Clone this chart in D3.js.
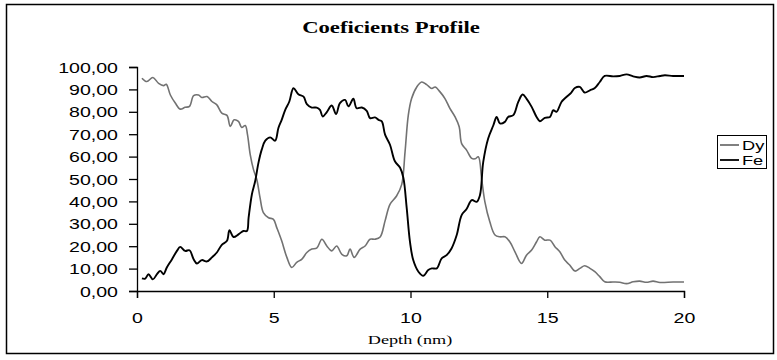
<!DOCTYPE html>
<html>
<head>
<meta charset="utf-8">
<script src="https://cdn.jsdelivr.net/npm/d3@7"></script>
<style>
  body { margin: 0; background: #fff; }
  svg { display: block; }
</style>
</head>
<body>
<svg width="777" height="360"></svg>
<script>
// values
let seriesNames = ["Dy", "Fe"]
let xTicks = [0, 5, 10, 15, 20]
let yTicks = [0, 10, 20, 30, 40, 50, 60, 70, 80, 90, 100]

let dyDepth = [0.18,0.36,0.58,0.79,0.97,1.07,1.22,1.40,1.58,1.76,1.92,2.07,2.25,2.37,2.56,2.74,2.92,3.10,3.29,3.41,3.55,3.71,3.83,3.96,4.04,4.14,4.26,4.38,4.50,4.62,4.81,4.99,5.11,5.29,5.48,5.66,5.84,6.03,6.21,6.39,6.57,6.76,6.94,7.12,7.30,7.49,7.67,7.79,7.94,8.16,8.34,8.52,8.70,8.89,9.07,9.25,9.49,9.68,9.80,9.92,10.04,10.23,10.41,10.59,10.78,10.90,11.08,11.26,11.44,11.63,11.78,11.87,12.05,12.24,12.36,12.48,12.60,12.72,12.90,13.09,13.27,13.45,13.63,13.82,14.06,14.24,14.43,14.61,14.73,14.91,15.10,15.28,15.46,15.64,15.82,16.01,16.19,16.37,16.56,16.74,16.92,17.10,17.41,17.65,17.90,18.14,18.38,18.63,18.87,19.12,19.60,20]
let dyValues = [95,93.5,95.3,92.7,91.7,92.3,87.5,83.9,81.2,82,82.4,87.2,87.5,86.4,86.8,84.6,83.1,79.4,78.4,73.5,76.4,75.7,73,73.9,69.8,60.9,54.2,49.8,41.6,35,32.7,32,28.3,22.4,15,10.5,12.8,14.2,17.2,18.7,19.1,23.1,20.1,17.9,20.1,16.4,15.7,18.7,15,18.7,20.1,23.1,23.1,24.1,31.3,38.7,42.4,47.6,62,78.5,85.9,91.1,93.3,92.1,90.4,91.1,88.9,85.9,81.5,77.7,73.3,65.8,62.9,59.2,59,59.9,50.2,39.8,30.9,25,24.2,24.2,22,17.5,12.3,16,18.3,22,24.2,22.7,22.7,19.8,17.5,13.8,11.6,8.9,10.1,11.3,10.1,8.6,6.4,4.1,4,3.9,3.3,4.1,4.4,3.9,4.4,3.8,4,4]

let feDepth = [0.18,0.30,0.42,0.58,0.73,0.85,0.97,1.09,1.28,1.46,1.58,1.76,1.92,2.07,2.19,2.37,2.56,2.74,2.92,3.10,3.29,3.38,3.53,3.71,3.89,4.02,4.08,4.20,4.32,4.44,4.56,4.69,4.87,5.05,5.17,5.29,5.42,5.57,5.72,5.90,6.09,6.21,6.39,6.57,6.69,6.79,6.94,7.12,7.28,7.42,7.61,7.73,7.91,8.03,8.22,8.40,8.52,8.70,8.83,8.95,9.07,9.25,9.43,9.62,9.74,9.86,9.98,10.10,10.29,10.47,10.65,10.78,10.96,11.14,11.32,11.50,11.69,11.87,12.05,12.24,12.42,12.54,12.66,12.84,13.03,13.15,13.27,13.45,13.57,13.76,13.94,14.10,14.24,14.43,14.61,14.73,14.91,15.10,15.22,15.34,15.52,15.70,15.88,16.01,16.19,16.37,16.56,16.74,16.92,17.10,17.41,17.65,17.90,18.14,18.38,18.63,18.87,19.12,19.30,19.60,20]
let feValues = [5.6,5.5,7.5,5.2,7.5,9,7.5,10.5,14.2,17.9,19.7,17.9,18.2,14.2,12.3,13.8,13.2,15,17.2,20.6,22.4,27.1,24.1,25.3,26.8,26.8,32.7,43.1,49,57.2,63.1,67.1,68.6,67.1,72.8,76.4,80.9,84.6,90.5,87.8,86.8,83.4,81.9,81.9,80.9,77.9,79.9,82.8,79,83.9,85.3,82.4,85.8,81.6,81.9,80.4,77.2,77.5,76.4,75.7,69.8,65.3,57.9,55,50.5,37.2,22,13.8,8.6,6.8,9.4,10.1,10.1,14.6,16,19,25,33.9,36.6,40.6,39.8,42.8,57.6,68.1,74,77.7,74.8,75.5,77.7,78.5,84.4,87.7,85.9,82.2,77.7,75.8,77.3,77.7,80.7,80,84.4,86.6,88.6,90.6,91.1,88.6,89.6,90.6,93.3,96,95.8,96,96.7,95.8,95.3,96,95.5,96,96.3,96,96]

let colors = ["#727272", "#000000"]
let stretch = 1.35   // the picture is squeezed wider than its fonts

let svg = d3.select("svg")

// outer frame
svg.append("rect")
    .attr("x", 6.5).attr("y", 4.5)
    .attr("width", 767).attr("height", 349)
    .style("fill", "none")
    .style("stroke", "black")
    .style("stroke-width", 1.5)

let x = d3.scaleLinear()
    .domain([0, 20])
    .range([137, 684])

let y = d3.scaleLinear()
    .domain([0, 100])
    .range([291, 67])

function wideText(sel, px, py) {
    sel.attr("transform", `translate(${px},${py}) scale(${stretch},1)`)
}

// title
svg.append("text")
    .text("Coeficients Profile")
    .style("font-family", "'Liberation Serif', 'Times New Roman', serif")
    .style("font-weight", "bold")
    .style("font-size", "16.8px")
    .style("text-anchor", "middle")
    .call(wideText, 391, 33)

let fmt = d => d3.format(".2f")(d).replace(".", ",")

let yAxis = svg.append("g")
    .attr("transform", "translate(137,0)")
    .call(d3.axisLeft(y).tickValues(yTicks).tickSize(8).tickFormat(fmt))

let xAxis = svg.append("g")
    .attr("transform", "translate(0,291)")
    .call(d3.axisBottom(x).tickValues(xTicks).tickSize(7).tickFormat(d3.format("d")))

svg.selectAll(".domain, .tick line")
    .style("stroke", "black")
    .style("stroke-width", 1.3)

svg.selectAll(".tick text")
    .style("font-family", "'Liberation Sans', Arial, sans-serif")
    .style("font-size", "14.5px")
    .style("fill", "black")

yAxis.selectAll(".tick text")
    .attr("x", null).attr("dy", "0.35em")
    .call(wideText, -19, 0)

xAxis.selectAll(".tick text")
    .attr("y", null).attr("dy", null)
    .call(wideText, 0, 32)

// axis title
svg.append("text")
    .text("Depth (nm)")
    .style("font-family", "'Liberation Serif', 'Times New Roman', serif")
    .style("font-size", "13.5px")
    .style("text-anchor", "middle")
    .call(wideText, 410, 344)

let line = d3.line()
    .x(d => x(d[0]))
    .y(d => y(d[1]))
    .curve(d3.curveCatmullRom.alpha(0.5))

let series = [d3.zip(dyDepth, dyValues), d3.zip(feDepth, feValues)]

svg.selectAll(".series")
    .data(series)
    .join("path")
    .attr("class", "series")
    .attr("d", line)
    .style("fill", "none")
    .style("stroke", (d, i) => colors[i])
    .style("stroke-width", (d, i) => i == 0 ? 1.6 : 1.9)
    .style("stroke-linejoin", "round")

// legend
svg.append("rect")
    .attr("x", 717.5).attr("y", 135.5)
    .attr("width", 49).attr("height", 33)
    .style("fill", "white")
    .style("stroke", "black")
    .style("stroke-width", 1)

seriesNames.forEach(function (name, i) {
    let ly = 145 + i * 15
    svg.append("line")
        .attr("x1", 720).attr("x2", 739)
        .attr("y1", ly).attr("y2", ly)
        .style("stroke", colors[i])
        .style("stroke-width", 1.8)
    svg.append("text")
        .text(name)
        .attr("dy", "0.35em")
        .style("font-family", "'Liberation Sans', Arial, sans-serif")
        .style("font-size", "13.5px")
        .call(wideText, 742, ly)
})
</script>
</body>
</html>
